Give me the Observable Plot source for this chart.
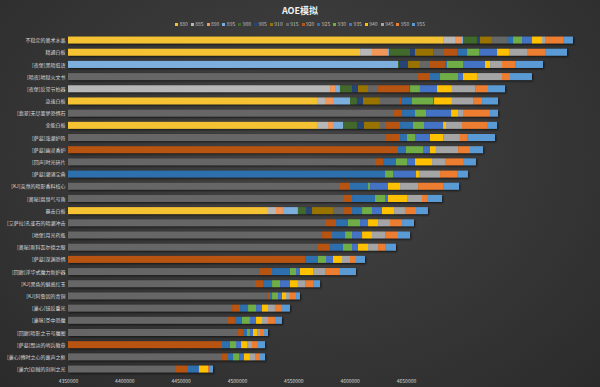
<!DOCTYPE html>
<html>
<head>
<meta charset="utf-8">
<script src="https://cdn.jsdelivr.net/npm/d3@7"></script>
<script src="https://cdn.jsdelivr.net/npm/@observablehq/plot@0.6"></script>
<style>
  html, body { margin: 0; padding: 0; }
  body {
    width: 600px; height: 387px; overflow: hidden; position: relative;
    background: radial-gradient(ellipse at 50% 40%, #454545 0%, #393939 45%, #2b2b2b 100%);
    font-family: "Noto Sans CJK SC", "Noto Sans", sans-serif;
  }
  #title { position: absolute; top: 0; left: 0; width: 600px; height: 17px; line-height: 22px; text-align: center; color: #f2f2f2; font-weight: bold; font-size: 9px; }
  #legend { position: absolute; top: 17px; left: 0; width: 600px; height: 13px; display: flex; justify-content: center; align-items: center; gap: 3px; font-size: 5px; color: #bfbfbf; }
  #legend .sw { display: inline-block; width: 3px; height: 3px; margin-right: 1.5px; vertical-align: middle; }
  #chart { position: absolute; top: 30px; left: 0; width: 600px; height: 357px; }
  #chart svg { display: block; overflow: visible; }
  .chart g[aria-label="bar"] { filter: drop-shadow(1px 1.5px 1px rgba(0,0,0,0.65)); }
</style>
</head>
<body>
<div id="title">AOE模拟</div>
<div id="legend"></div>
<div id="chart"></div>
<script>
const ilvls = ["880","885","890","895","900","905","910","915","920","925","930","935","940","945","950","955"];
const seriesColors = ["#f4c232","#b7b7b7","#f1975a","#7cafdd","#43682b","#264478","#997300","#666666",
                      "#b85412","#2e6fad","#70ad47","#4472c4","#ffc000","#a5a5a5","#ed7d31","#5b9bd5"];
const items = [
  "不稳定的奥术水晶","精通白板","[夜堡]黑暗低语","[暗夜]地狱火文书","[夜堡]反常节拍器","急速白板",
  "[翡翠]无尽噩梦恐惧石","全能白板","[萨墓]涨潮护符","[萨墓]幽灵香炉","[回声]时光碎片","[萨墓]潮涌宝典",
  "[KJ]突然的暗影香料核心","[奥秘]腐臭气号角","暴击白板","[艾萨拉]孔雀石的暗潮冲击","[地堡]月光药瓶",
  "[奥秘]斯科瓦尔德之眼","[萨墓]深渊恐惧","[回廊]浮华式魔力新炉器","[KJ]黑色的魅惑红玉","[KJ]阿鲁因的青铜",
  "[巢心]镜反重光","[巢咏]圣中恐魔","[回廊]暗影之节号魔图","[萨墓]黯淡的哨兵徽章","[巢心]傅时之心的嘉声之框","[巢穴]窃贼的刻刺之光"
];
const xTicks = [4350000,4400000,4450000,4500000,4550000,4600000,4650000];
const xDomain = [4350000, 4800000];

const v880 = [4682900,4609200,null,null,null,4571000,null,4571000,null,null,null,null,null,null,4527500,null,null,null,null,null,null,null,null,null,null,null,null,null];
const v885 = [4693500,4619800,null,null,4582600,4578100,null,4580800,null,null,null,null,null,null,4534600,null,null,null,null,null,null,null,null,null,null,null,null,null];
const v890 = [4699700,4634000,null,null,4587000,4585200,null,4585200,null,null,null,null,null,null,4540800,null,null,null,null,null,null,null,null,null,null,null,null,null];
const v895 = [4700600,4634900,4642900,null,4591400,4600300,null,4594100,null,null,null,null,null,null,4554100,null,null,null,null,null,null,null,null,null,null,null,null,null];
const v900 = [4713000,4653600,4643800,null,4602100,4606500,null,4606500,null,null,null,null,null,null,4561200,null,null,null,null,null,null,null,null,null,null,null,null,null];
const v905 = [4715700,4658000,4651800,null,4607400,4611800,null,4612700,null,null,null,null,null,null,4566600,null,null,null,null,null,null,null,null,null,null,null,null,null];
const v910 = [4726300,4674000,4662400,null,4616300,4626900,null,4626900,null,null,null,null,null,null,4585200,null,null,null,null,null,null,null,null,null,null,null,null,null];
const v915 = [4739700,4682900,4671300,4660700,4625200,4644700,4638500,4631400,4631400,null,4622500,null,4591400,4594100,4594100,4578100,4575500,4571900,null,4520400,4516000,4527500,4495600,4492000,4500900,null,4486700,4445000];
const v920 = [4740500,4695300,4684600,4671300,4652700,4645600,4646500,4644700,4644700,4642900,4629600,null,4600300,4602100,4602100,4587900,4584300,4582600,4560400,4531100,4523100,4529300,4502700,4498200,4505300,4486700,4492000,4456500];
const v925 = [4745000,4704200,4686400,4680200,4653600,4655300,4658000,4656200,4650900,4650000,4641100,4631400,4616300,4622500,4611000,4598500,4595900,4594100,4571900,4547000,4531100,4531100,4509800,4504400,4508900,4493800,4496500,4465400];
const v930 = [4753000,4714800,4700600,4696200,4662400,4674000,4667800,4666000,4658000,4665100,4650900,4638500,4618100,4631400,4619800,4609200,4602100,4602100,4579000,4552400,4538200,4536400,4516900,4511500,4511500,4499100,4501800,4465400];
const v935 = [4761800,4730800,4720100,4700600,4677500,4674900,4690000,4682900,4671300,4671300,4658000,4658900,4634000,4634000,4628700,4616300,4611000,4607400,4585200,4555900,4547000,4539900,4522200,4516900,4514200,4503600,4506200,4466300];
const v940 = [4770700,4741400,4724600,4713000,4690800,4690800,4696200,4685500,4682900,4676600,4673100,4661500,4644700,4650900,4639400,4625200,4619800,4616300,4593200,4567500,4554100,4543500,4527500,4522200,4517800,4508900,4511500,4474300];
const v945 = [4773400,4757400,4735200,4735200,4711300,4709500,4700600,4699700,4697900,4696200,4684600,4680200,4660700,4664200,4649100,4635800,4631400,4625200,4600300,4578100,4560400,4547000,4533700,4527500,4520400,4513300,4516000,4474300];
const v950 = [4789400,4773400,4746800,4742300,4722800,4717500,4724600,4721900,4704200,4706800,4700600,4695300,4682900,4669500,4658900,4646500,4642900,4631400,4605600,4591400,4567500,4552400,4539900,4533700,4524000,4518600,4520400,4475200];
const v955 = [4798200,4792900,4771600,4761800,4737900,4731700,4731700,4730800,4729000,4718400,4712100,4705000,4697100,4682000,4669500,4657100,4653600,4641100,4613600,4605600,4573700,4555900,4547000,4539900,4527500,4524900,4524900,4478700];

const seriesValues = [v880,v885,v890,v895,v900,v905,v910,v915,v920,v925,v930,v935,v940,v945,v950,v955];

// Build stacked segments: each ilvl adds the gain over the previous available ilvl
const segments = [];
items.forEach((item, i) => {
  let prev = null;
  seriesValues.forEach((vals, s) => {
    const v = vals[i];
    if (v == null) return;
    segments.push({item, series: ilvls[s], x1: prev == null ? xDomain[0] : prev, x2: v});
    prev = v;
  });
});

// Legend
const legend = document.getElementById("legend");
ilvls.forEach((k, i) => {
  const span = document.createElement("span");
  span.innerHTML = `<span class="sw" style="background:${seriesColors[i]}"></span>${k}`;
  legend.appendChild(span);
});

const chart = Plot.plot({
  className: "chart",
  width: 600,
  height: 357,
  marginLeft: 68,
  marginRight: 25,
  marginTop: 1,
  marginBottom: 9,
  style: {background: "transparent", color: "#d9d9d9", fontSize: "5px", fontFamily: "'Noto Sans CJK SC', 'Noto Sans', sans-serif"},
  x: {domain: xDomain, range: [68, 575], ticks: xTicks, tickFormat: d => String(d), tickSize: 0, tickPadding: 1, label: null},
  y: {domain: items, range: [1.4, 347.7], round: false, padding: 0.42, tickSize: 0, tickPadding: 3, label: null},
  color: {domain: ilvls, range: seriesColors},
  marks: [
    Plot.barX(segments, {y: "item", x1: "x1", x2: "x2", fill: "series", inset: 0})
  ]
});
document.getElementById("chart").appendChild(chart);
</script>
</body>
</html>
